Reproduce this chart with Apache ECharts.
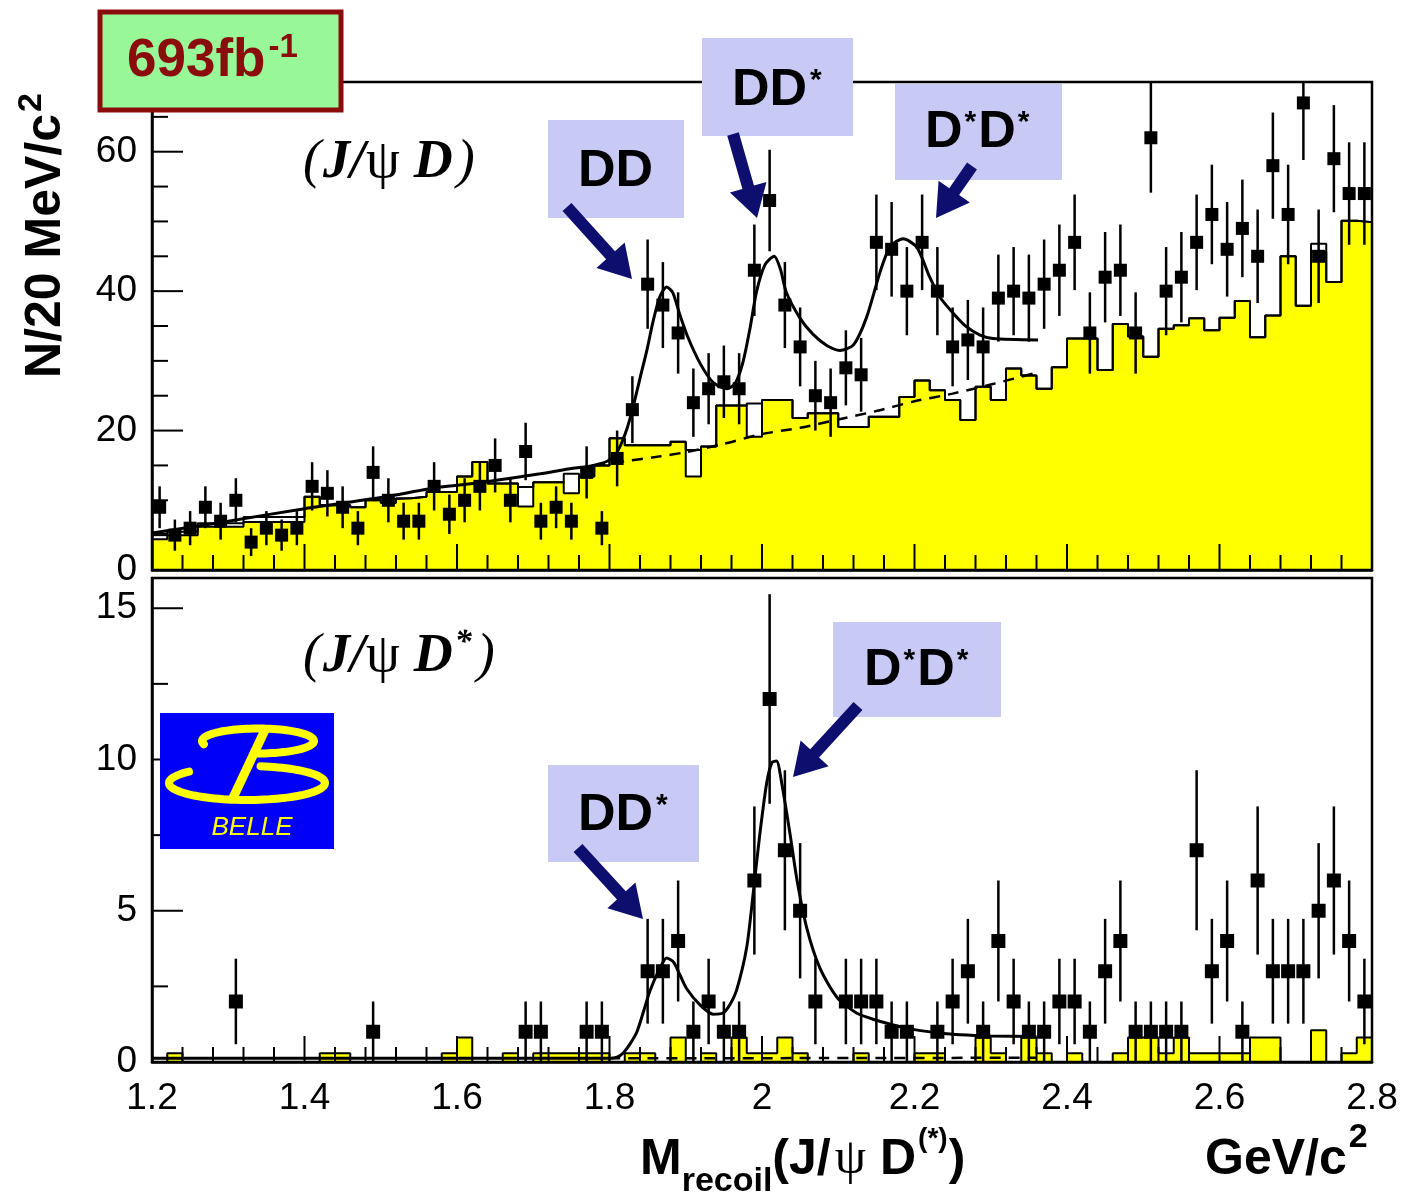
<!DOCTYPE html>
<html>
<head>
<meta charset="utf-8">
<script src="https://cdn.jsdelivr.net/npm/echarts@6/dist/echarts.min.js"></script>
<style>
  html, body { margin: 0; padding: 0; background: #ffffff; }
  #chart { width: 1404px; height: 1199px; }
</style>
</head>
<body>
<div id="chart"></div>
<script>
// 20 MeV/c^2 bins covering 1.2 - 2.8 GeV/c^2
const binStart = 1.2;
const binWidth = 0.02;

// ---- upper panel: recoil mass against J/psi D ----
const countsJpsiD = [
  9, 5, 6, 9, 7, 10, 4, 6, 5, 6,
  12, 11, 9, 6, 14, 10, 7, 7, 12, 8,
  10, 12, 15, 10, 17, 7, 9, 7, 14, 6,
  16, 23, 41, 38, 34, 24, 26, 27, 26, 43,
  53, 38, 32, 25, 24, 29, 28, 47, 46, 40,
  47, 40, 32, 33, 32, 39, 40, 39, 41, 43,
  47, 34, 42, 43, 34, 62, 40, 42, 47, 51,
  46, 49, 45, 58, 51, 67, 45, 59, 54, 54
];
// sideband background, filled
const sidebandJpsiD = [
  4.4, 5.0, 5.0, 6.2, 6.2, 6.2, 6.9, 6.9, 6.9, 6.9,
  10.5, 9.3, 9.3, 9.0, 10.0, 9.6, 10.3, 10.5, 11.2, 11.2,
  13.4, 15.5, 12.4, 12.4, 9.1, 12.6, 12.6, 11.0, 13.4, 15.0,
  18.9, 17.9, 17.9, 17.9, 18.4, 13.4, 17.7, 23.6, 23.6, 19.1,
  24.4, 24.4, 21.8, 22.5, 22.5, 20.5, 20.5, 22.0, 22.0, 24.8,
  27.2, 25.8, 24.4, 21.5, 26.3, 24.4, 28.9, 27.9, 26.0, 29.1,
  33.2, 33.2, 28.7, 35.3, 33.5, 30.6, 34.6, 35.1, 36.1, 34.4,
  36.2, 38.6, 33.4, 36.5, 45.0, 37.9, 45.6, 41.3, 50.1, 49.9
];
// second background estimate, outline only
const altBkgJpsiD = [
  5.2, 5.5, 5.5, 6.7, 6.7, 6.7, 7.6, 7.6, 7.6, 7.6,
  10.5, 9.3, 9.3, 9.0, 10.0, 10.2, 10.3, 10.5, 11.2, 11.2,
  13.4, 15.5, 12.4, 12.4, 11.9, 12.6, 12.6, 13.8, 13.4, 15.0,
  18.9, 17.9, 17.9, 17.9, 18.4, 17.2, 17.7, 23.6, 23.6, 23.9,
  24.4, 24.4, 21.8, 22.5, 22.5, 20.5, 20.5, 22.0, 22.0, 24.8,
  27.2, 25.8, 24.4, 21.5, 26.3, 24.4, 28.9, 27.9, 26.0, 29.1,
  33.2, 33.2, 28.7, 35.3, 33.5, 30.6, 34.6, 35.1, 36.1, 34.4,
  36.2, 38.6, 33.4, 36.5, 45.0, 37.9, 46.8, 41.3, 50.1, 49.9
];
// fit: three resonances over a threshold background
const fitJpsiD = [
  [1.20, 5.3], [1.30, 7.0], [1.40, 8.8], [1.50, 10.4], [1.578, 11.9], [1.621, 12.4],
  [1.666, 13.1], [1.709, 13.8], [1.752, 14.6], [1.774, 14.9], [1.797, 15.6], [1.808, 16.6],
  [1.815, 18.0], [1.823, 20.3], [1.831, 23.4], [1.840, 27.5], [1.849, 31.5], [1.857, 35.6],
  [1.866, 39.2], [1.875, 40.6], [1.883, 39.8], [1.892, 36.7], [1.902, 33.6], [1.919, 29.6],
  [1.936, 26.9], [1.954, 26.0], [1.965, 26.8], [1.975, 29.8], [1.984, 34.5], [1.993, 40.0],
  [2.004, 43.8], [2.016, 45.0], [2.024, 43.2], [2.032, 39.8], [2.050, 36.1], [2.067, 33.8],
  [2.085, 32.2], [2.102, 31.5], [2.120, 32.3], [2.137, 36.2], [2.155, 42.8], [2.168, 46.4],
  [2.185, 47.5], [2.203, 46.3], [2.220, 42.0], [2.233, 39.2], [2.251, 36.8], [2.268, 34.9],
  [2.286, 33.7], [2.303, 33.2], [2.362, 33.0]
];
const fitBkgJpsiD = [
  [1.78, 15.0], [1.82, 15.6], [1.86, 16.2], [1.90, 16.9], [1.95, 18.1], [2.00, 19.5],
  [2.05, 20.4], [2.10, 21.6], [2.15, 22.8], [2.20, 24.2], [2.25, 25.3], [2.30, 26.6], [2.36, 28.3]
];

// ---- lower panel: recoil mass against J/psi D* ----
const countsJpsiDst = [
  0, 0, 0, 0, 0, 2, 0, 0, 0, 0,
  0, 0, 0, 0, 1, 0, 0, 0, 0, 0,
  0, 0, 0, 0, 1, 1, 0, 0, 1, 1,
  0, 0, 3, 3, 4, 1, 2, 1, 1, 6,
  12, 7, 5, 2, 0, 2, 2, 2, 1, 1,
  0, 1, 2, 3, 1, 4, 2, 1, 1, 2,
  2, 1, 3, 4, 1, 1, 1, 1, 7, 3,
  4, 1, 6, 3, 3, 3, 5, 6, 4, 2
];
const sidebandJpsiDst = [
  0, 0.29, 0, 0, 0, 0, 0, 0, 0, 0,
  0, 0.29, 0.29, 0, 0, 0, 0, 0, 0, 0.29,
  0.81, 0, 0, 0.29, 0, 0.29, 0.29, 0.29, 0.29, 0.29,
  0, 0.29, 0.29, 0, 0.81, 0, 0.29, 0, 0.81, 0.29,
  0.29, 0.81, 0.29, 0, 0, 0, 0.29, 0, 0, 0,
  0.29, 0.29, 0, 0, 0.81, 0.29, 0, 0.81, 0.29, 0,
  0.29, 0, 0, 0.29, 0.81, 0.81, 0.29, 0.81, 0.29, 0.29,
  0.29, 0.29, 0.81, 0.81, 0, 0, 1.05, 0, 0.29, 0.81
];
const fitJpsiDst = [
  [1.20, 0.12], [1.50, 0.12], [1.80, 0.12], [1.81, 0.16], [1.818, 0.3], [1.827, 0.6],
  [1.836, 1.0], [1.845, 1.7], [1.853, 2.35], [1.866, 3.1], [1.875, 3.44], [1.884, 3.3],
  [1.892, 2.9], [1.901, 2.43], [1.919, 1.88], [1.936, 1.58], [1.949, 1.62], [1.958, 1.9],
  [1.967, 2.4], [1.980, 3.8], [1.989, 5.7], [1.997, 7.5], [2.006, 9.2], [2.013, 9.9],
  [2.019, 9.95], [2.026, 9.2], [2.037, 7.5], [2.046, 6.0], [2.059, 4.4], [2.076, 3.1],
  [2.098, 2.15], [2.124, 1.62], [2.150, 1.38], [2.176, 1.2], [2.200, 1.07], [2.230, 0.97],
  [2.260, 0.9], [2.300, 0.86], [2.360, 0.84]
];
const fitBkgJpsiDst = [[1.80, 0.12], [2.08, 0.13], [2.36, 0.14]];

// axis ranges and tick positions
const xRange = [1.2, 2.8];
const yRangeTop = [0, 70];
const yRangeBottom = [0, 16];
const xMajorTicks = [1.2, 1.4, 1.6, 1.8, 2.0, 2.2, 2.4, 2.6, 2.8];
const xMinorPerMajor = 5;
const yMajorTicksTop = [0, 20, 40, 60];
const yMinorStepTop = 5;
const yMajorTicksBottom = [0, 5, 10, 15];
const yMinorStepBottom = 2.5;

// ---------------------------------------------------------------
const SANS = '"Liberation Sans", Arial, Helvetica, sans-serif';
const SERIF = '"Liberation Serif", "Times New Roman", serif';
const INK = '#000000';
const YELLOW = '#ffff00';
const NAVY = '#0e0e6e';
const LAVENDER = '#c9c9f6';

// step outline points at bin edges
function histEdges(vals) {
  const pts = vals.map((v, i) => [binStart + i * binWidth, v]);
  pts.push([binStart + vals.length * binWidth, vals[vals.length - 1]]);
  return pts;
}
function binCenters(vals) {
  return vals.map((v, i) => [binStart + (i + 0.5) * binWidth, v]);
}

function histSeries(axis, vals, filled, z) {
  return {
    type: 'line', xAxisIndex: axis, yAxisIndex: axis, step: 'end',
    data: histEdges(vals), symbol: 'none', silent: true, z: z,
    lineStyle: { color: INK, width: 2 },
    areaStyle: filled ? { color: YELLOW, opacity: 1 } : undefined
  };
}
function curveSeries(axis, pts, dashed, z) {
  return {
    type: 'line', xAxisIndex: axis, yAxisIndex: axis, data: pts,
    symbol: 'none', smooth: 0.25, silent: true, z: z,
    lineStyle: dashed ? { color: INK, width: 2.5, type: [11, 8] } : { color: INK, width: 3 }
  };
}
// filled squares with sqrt(N) error bars
function pointSeries(axis, vals, ymax, size) {
  return {
    type: 'custom', xAxisIndex: axis, yAxisIndex: axis, z: 10, silent: true,
    data: binCenters(vals), encode: { x: 0, y: 1 },
    renderItem(params, api) {
      const x = api.value(0), n = api.value(1);
      if (!(n > 0)) return null;
      const e = Math.sqrt(n);
      const c = api.coord([x, n]);
      const hi = api.coord([x, Math.min(n + e, ymax)]);
      const lo = api.coord([x, Math.max(n - e, 0)]);
      return {
        type: 'group',
        children: [
          { type: 'line', shape: { x1: c[0], y1: hi[1], x2: c[0], y2: lo[1] },
            style: { stroke: INK, lineWidth: 2.5 } },
          { type: 'rect', shape: { x: c[0] - size / 2, y: c[1] - size / 2, width: size, height: size },
            style: { fill: INK } }
        ]
      };
    }
  };
}

// inward tick marks drawn on top of the filled histograms
function tickList(yMajor, yMinorStep, yMax) {
  const out = [];
  const y0 = yMajor[0];
  xMajorTicks.forEach((v, i) => {
    out.push([v, y0, 0, 26]);
    if (i < xMajorTicks.length - 1) {
      const step = (xMajorTicks[i + 1] - v) / xMinorPerMajor;
      for (let k = 1; k < xMinorPerMajor; k++) out.push([v + k * step, y0, 0, 15]);
    }
  });
  for (let v = y0; v <= yMax + 1e-9; v += yMinorStep) {
    const major = yMajor.some(m => Math.abs(m - v) < 1e-9);
    out.push([xRange[0], v, 1, major ? 31 : 16]);
  }
  return out;
}
function tickSeries(axis, ticks) {
  return {
    type: 'custom', xAxisIndex: axis, yAxisIndex: axis, z: 25, silent: true, clip: false,
    data: ticks, encode: { x: 0, y: 1 },
    renderItem(params, api) {
      const p = api.coord([api.value(0), api.value(1)]);
      const len = api.value(3);
      const vertical = api.value(2) === 0;
      return {
        type: 'line',
        shape: vertical ? { x1: p[0], y1: p[1], x2: p[0], y2: p[1] - len }
                        : { x1: p[0], y1: p[1], x2: p[0] + len, y2: p[1] },
        style: { stroke: INK, lineWidth: 2 }
      };
    }
  };
}

const tickLabelStyle = { color: INK, fontFamily: SANS, fontWeight: 'normal', fontSize: 37 };

function xAxisCfg(grid, labels) {
  return {
    type: 'value', gridIndex: grid, min: xRange[0], max: xRange[1], interval: 0.2, z: 30,
    axisLine: { show: true, lineStyle: { color: INK, width: 2.5 } },
    axisTick: { show: false },
    minorTick: { show: false },
    splitLine: { show: false },
    axisLabel: labels ? Object.assign({ show: true, margin: 18, showMinLabel: true, showMaxLabel: true }, tickLabelStyle)
                      : { show: false }
  };
}
function yAxisCfg(grid, range, interval) {
  return {
    type: 'value', gridIndex: grid, min: range[0], max: range[1], interval: interval, z: 30,
    axisLine: { show: true, lineStyle: { color: INK, width: 2.5 } },
    axisTick: { show: false },
    minorTick: { show: false },
    splitLine: { show: false },
    axisLabel: Object.assign({ show: true, margin: 15, showMaxLabel: false }, tickLabelStyle)
  };
}

// ---- text runs with sub/superscripts, laid out by measured width ----
const measureCtx = document.createElement('canvas').getContext('2d');
function textRun(x, y, parts, color, z) {
  const els = [];
  let cx = x;
  for (const p of parts) {
    const [t, font, dy, gap] = p;
    cx += gap || 0;
    measureCtx.font = font;
    els.push({
      type: 'text', x: cx, y: y + (dy || 0), z: z || 120,
      style: { text: t, font: font, fill: color,
               textAlign: 'left', align: 'left',
               textVerticalAlign: 'middle', verticalAlign: 'middle' }
    });
    cx += measureCtx.measureText(t).width;
  }
  return els;
}

function arrowPolygon(x1, y1, x2, y2) {
  const sw = 12, hl = 32, hw = 19;
  const dx = x2 - x1, dy = y2 - y1, L = Math.hypot(dx, dy);
  const ux = dx / L, uy = dy / L, px = -uy, py = ux;
  const bx = x2 - ux * hl, by = y2 - uy * hl;
  return {
    type: 'polygon', z: 115,
    shape: { points: [
      [x1 + px * sw / 2, y1 + py * sw / 2], [bx + px * sw / 2, by + py * sw / 2],
      [bx + px * hw, by + py * hw], [x2, y2], [bx - px * hw, by - py * hw],
      [bx - px * sw / 2, by - py * sw / 2], [x1 - px * sw / 2, y1 - py * sw / 2]
    ] },
    style: { fill: NAVY }
  };
}

function labelBox(x, y, w, h) {
  return { type: 'rect', z: 110, shape: { x: x, y: y, width: w, height: h }, style: { fill: LAVENDER } };
}

function ellipseArc(cx, cy, rx, ry, t0, t1, n) {
  const pts = [];
  for (let k = 0; k <= n; k++) {
    const t = (t0 + (t1 - t0) * k / n) * Math.PI / 180;
    pts.push([cx + rx * Math.cos(t), cy + ry * Math.sin(t)]);
  }
  return pts;
}

const F_BIG = 'bold 52px ' + SANS;
const F_STAR = 'bold 30px ' + SANS;
const F_IT = 'italic 54px ' + SERIF;
const F_BIT = 'italic bold 54px ' + SERIF;
const F_PSI = '54px ' + SERIF;

const graphics = [];

// luminosity tag
graphics.push({ type: 'rect', z: 110, shape: { x: 100, y: 12, width: 241, height: 98 },
  style: { fill: '#98f898', stroke: '#8a0c0c', lineWidth: 5 } });
graphics.push(...textRun(127, 61, [
  ['693fb', 'bold 53px ' + SANS, 0],
  ['-1', 'bold 33px ' + SANS, -13, 3]
], '#8a0c0c'));

// channel labels
graphics.push(...textRun(303, 163, [
  ['(', F_IT, 0], ['J/', F_BIT, 0, 2], ['\u03C8', F_PSI, 0, 1], ['D', F_BIT, 0, 14], [')', F_IT, 0, 4]
], INK));
graphics.push(...textRun(303, 657, [
  ['(', F_IT, 0], ['J/', F_BIT, 0, 2], ['\u03C8', F_PSI, 0, 1], ['D', F_BIT, 0, 14],
  ['*', 'italic bold 34px ' + SERIF, -14, 2],
  [')', F_IT, 0, 5]
], INK));

// resonance tags and arrows, upper panel
graphics.push(labelBox(548, 120, 136, 98));
graphics.push(...textRun(578, 172, [['DD', F_BIG, 0]], INK));
graphics.push(arrowPolygon(567, 207, 632, 279));

graphics.push(labelBox(702, 38, 151, 98));
graphics.push(...textRun(732, 91, [['DD', F_BIG, 0], ['*', F_STAR, -10, 3]], INK));
graphics.push(arrowPolygon(733, 134, 757, 218));

graphics.push(labelBox(895, 84, 167, 96));
graphics.push(...textRun(925, 133, [['D', F_BIG, 0], ['*', F_STAR, -10, 2], ['D', F_BIG, 0, 2], ['*', F_STAR, -10, 2]], INK));
graphics.push(arrowPolygon(972, 166, 936, 218));

// resonance tags and arrows, lower panel
graphics.push(labelBox(833, 622, 168, 95));
graphics.push(...textRun(864, 671, [['D', F_BIG, 0], ['*', F_STAR, -10, 2], ['D', F_BIG, 0, 2], ['*', F_STAR, -10, 2]], INK));
graphics.push(arrowPolygon(858, 706, 793, 777));

graphics.push(labelBox(548, 765, 151, 97));
graphics.push(...textRun(578, 816, [['DD', F_BIG, 0], ['*', F_STAR, -10, 3]], INK));
graphics.push(arrowPolygon(578, 848, 643, 919));

// Belle logo
graphics.push({ type: 'rect', z: 110, shape: { x: 160, y: 713, width: 174, height: 136 }, style: { fill: '#0000fa' } });
graphics.push({ type: 'polyline', z: 111, shape: { points: ellipseArc(258, 741, 56, 12.5, 165, 450, 80) },
  style: { stroke: YELLOW, lineWidth: 8, lineCap: 'round', fill: null } });
graphics.push({ type: 'polyline', z: 111, shape: { points: ellipseArc(247, 783, 78, 17, 222, -80, 90) },
  style: { stroke: YELLOW, lineWidth: 8, lineCap: 'round', fill: null } });
graphics.push({ type: 'line', z: 111, shape: { x1: 265, y1: 730, x2: 232, y2: 800 },
  style: { stroke: YELLOW, lineWidth: 9, lineCap: 'butt' } });
graphics.push({ type: 'text', z: 112, x: 252, y: 828,
  style: { text: 'BELLE', font: 'italic 26px ' + SANS, fill: YELLOW,
           textAlign: 'center', align: 'center', textVerticalAlign: 'middle', verticalAlign: 'middle' } });

// y-axis title, reading upward
graphics.push({
  type: 'group', x: 46, y: 378, rotation: Math.PI / 2,
  children: textRun(0, 0, [
    ['N/20 MeV/c', 'bold 50px ' + SANS, 0],
    ['2', 'bold 34px ' + SANS, -14, 2]
  ], INK)
});

// x-axis title and unit
graphics.push(...textRun(640, 1160, [
  ['M', 'bold 50px ' + SANS, 0],
  ['recoil', 'bold 34px ' + SANS, 22],
  ['(J/', 'bold 50px ' + SANS, 0],
  ['\u03C8', '50px ' + SERIF, 0, 4],
  ['D', 'bold 50px ' + SANS, 0, 14],
  ['(*)', 'bold 28px ' + SANS, -21, 2],
  [')', 'bold 50px ' + SANS, 0, 1]
], INK));
graphics.push(...textRun(1205, 1160, [
  ['GeV/c', 'bold 50px ' + SANS, 0],
  ['2', 'bold 34px ' + SANS, -22, 2]
], INK));

const option = {
  animation: false,
  backgroundColor: '#ffffff',
  textStyle: { fontFamily: SANS },
  grid: [
    { left: 152, top: 82, width: 1220, height: 488, show: true, z: 30, borderColor: INK, borderWidth: 2.5, backgroundColor: 'transparent' },
    { left: 152, top: 578, width: 1220, height: 484, show: true, z: 30, borderColor: INK, borderWidth: 2.5, backgroundColor: 'transparent' }
  ],
  xAxis: [xAxisCfg(0, false), xAxisCfg(1, true)],
  yAxis: [yAxisCfg(0, yRangeTop, 20), yAxisCfg(1, yRangeBottom, 5)],
  series: [
    histSeries(0, sidebandJpsiD, true, 2),
    histSeries(0, altBkgJpsiD, false, 3),
    curveSeries(0, fitBkgJpsiD, true, 4),
    curveSeries(0, fitJpsiD, false, 5),
    pointSeries(0, countsJpsiD, yRangeTop[1], 13),
    tickSeries(0, tickList(yMajorTicksTop, yMinorStepTop, yRangeTop[1])),

    histSeries(1, sidebandJpsiDst, true, 2),
    curveSeries(1, fitBkgJpsiDst, true, 4),
    curveSeries(1, fitJpsiDst, false, 5),
    pointSeries(1, countsJpsiDst, yRangeBottom[1], 14),
    tickSeries(1, tickList(yMajorTicksBottom, yMinorStepBottom, yRangeBottom[1]))
  ],
  graphic: { elements: graphics }
};

const chart = echarts.init(document.getElementById('chart'), null, { renderer: 'canvas' });
chart.setOption(option);
</script>
</body>
</html>
